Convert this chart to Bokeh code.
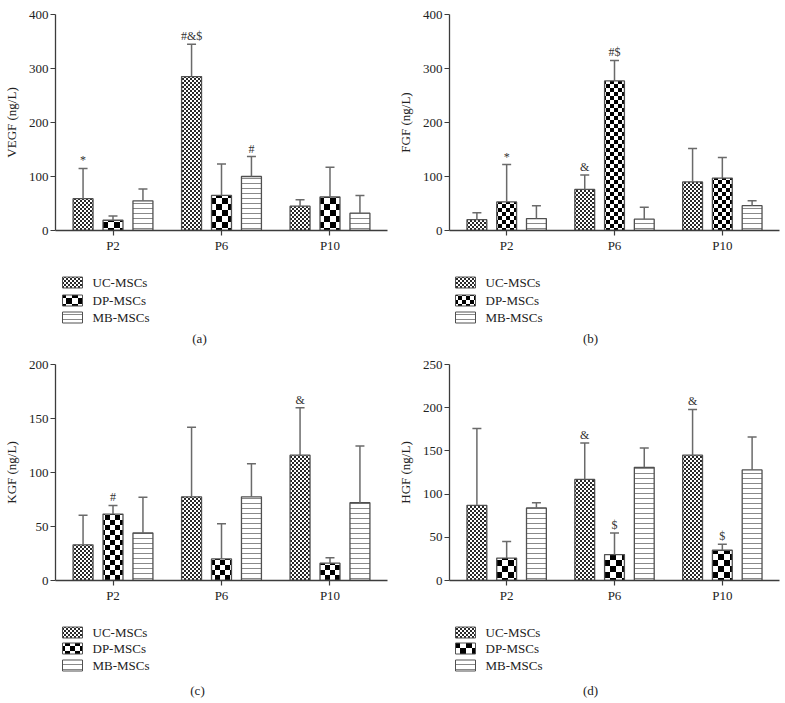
import zlib, struct, base64
from bokeh.plotting import figure
from bokeh.models import (ColumnDataSource, FactorRange, Range1d, SingleIntervalTicker,
                          ImageURLTexture, Grid)
from bokeh.transform import dodge
from bokeh.core.properties import value
from bokeh.layouts import column, row
from bokeh.embed import file_html
from bokeh.resources import INLINE

passages = ["P2", "P6", "P10"]
groups = ["UC-MSCs", "DP-MSCs", "MB-MSCs"]

# (a) VEGF
vegf_uc = [59, 285, 45]
vegf_uc_sd = [56, 60, 12]
vegf_dp = [19, 65, 62]
vegf_dp_sd = [8, 58, 55]
vegf_mb = [55, 100, 32]
vegf_mb_sd = [22, 37, 33]
vegf_uc_mark = ["*", "#&$", ""]
vegf_dp_mark = ["", "", ""]
vegf_mb_mark = ["", "#", ""]

# (b) FGF
fgf_uc = [20, 76, 90]
fgf_uc_sd = [13, 27, 62]
fgf_dp = [53, 277, 97]
fgf_dp_sd = [69, 38, 38]
fgf_mb = [22, 21, 46]
fgf_mb_sd = [24, 22, 9]
fgf_uc_mark = ["", "&", ""]
fgf_dp_mark = ["*", "#$", ""]
fgf_mb_mark = ["", "", ""]

# (c) KGF
kgf_uc = [33, 77.5, 116]
kgf_uc_sd = [27.5, 64.5, 44]
kgf_dp = [61.5, 20, 16]
kgf_dp_sd = [8, 32.5, 5]
kgf_mb = [44, 77.5, 72]
kgf_mb_sd = [33, 30.5, 52.5]
kgf_uc_mark = ["", "", "&"]
kgf_dp_mark = ["#", "", ""]
kgf_mb_mark = ["", "", ""]

# (d) HGF
hgf_uc = [87, 117, 145]
hgf_uc_sd = [89, 42, 53]
hgf_dp = [26, 30, 35]
hgf_dp_sd = [19, 25, 7]
hgf_mb = [84, 131, 128]
hgf_mb_sd = [6, 22.5, 38]
hgf_uc_mark = ["", "&", "&"]
hgf_dp_mark = ["", "$", "$"]
hgf_mb_mark = ["", "", ""]

FONT = "Liberation Serif"


def checker_png(n, fg, bg=255):
    size = 2 * n
    raw = b""
    for yy in range(size):
        line = bytes([fg if ((xx // n + yy // n) % 2 == 0) else bg for xx in range(size)])
        raw += b"\x00" + line

    def chunk(t, d):
        c = struct.pack(">I", len(d)) + t + d
        return c + struct.pack(">I", zlib.crc32(t + d) & 0xffffffff)

    png = (b"\x89PNG\r\n\x1a\n"
           + chunk(b"IHDR", struct.pack(">IIBBBBB", size, size, 8, 0, 0, 0, 0))
           + chunk(b"IDAT", zlib.compress(raw))
           + chunk(b"IEND", b""))
    return "data:image/png;base64," + base64.b64encode(png).decode()


def styles_for(dp_n):
    return [
        dict(hatch_pattern=value("ucfine"),
             hatch_extra={"ucfine": ImageURLTexture(url=checker_png(2, 40))}),
        dict(hatch_pattern=value("dpbig"),
             hatch_extra={"dpbig": ImageURLTexture(url=checker_png(dp_n, 0))}),
        dict(hatch_pattern="horizontal_line", hatch_color="#8a8a8a", hatch_scale=5,
             hatch_weight=1),
    ]


def make_panel(ylabel, ymax, step, series, caption, fw, mbl, mbr, mbt, dp_n,
               leg_h, leg_x, leg_rows, cap_x, cap_y):
    p = figure(x_range=FactorRange(*passages, range_padding=0.02),
               y_range=Range1d(0, ymax), frame_width=fw, frame_height=216,
               min_border_left=mbl, min_border_right=mbr, min_border_top=mbt,
               min_border_bottom=26, output_backend="svg", toolbar_location=None,
               tools="", title=None)
    p.outline_line_alpha = 0
    p.xgrid.visible = False
    p.ygrid.visible = False

    offsets = [-0.276, 0.0, 0.276]
    styles = styles_for(dp_n)
    for (vals, sds, marks), off, st in zip(series, offsets, styles):
        src = ColumnDataSource(dict(x=passages, top=vals,
                                    upper=[v + s for v, s in zip(vals, sds)],
                                    mark=marks))
        xs = dodge("x", off, range=p.x_range)
        p.vbar(x=xs, top="top", width=0.184, source=src, fill_color="white",
               line_color="#505050", line_width=1.3, **st)
        p.segment(x0=xs, y0="top", x1=xs, y1="upper", source=src,
                  line_color="#6a6a6a", line_width=1.5)
        p.scatter(x=xs, y="upper", marker="dash", size=9, source=src,
                  line_color="#6a6a6a", line_width=1.5)
        p.text(x=xs, y="upper", text="mark", source=src, text_align="center",
               text_baseline="bottom", y_offset=-1, text_font=value(FONT),
               text_font_size="12px", text_color="#333333")

    p.yaxis.ticker = SingleIntervalTicker(interval=step, num_minor_ticks=0)
    for ax in (p.xaxis[0], p.yaxis[0]):
        ax.axis_line_color = "#3c3c3c"
        ax.axis_line_width = 1.3
        ax.major_tick_line_color = "#3c3c3c"
        ax.major_tick_line_width = 1.2
        ax.major_tick_in = 0
        ax.minor_tick_line_color = None
        ax.major_label_text_font = FONT
        ax.major_label_text_font_size = "13px"
        ax.major_label_text_color = "#222222"
    p.xaxis.major_tick_out = 5
    p.xaxis.major_label_standoff = 2
    p.yaxis.major_tick_out = 5
    p.yaxis.major_label_standoff = 2
    p.yaxis.axis_label = ylabel
    p.yaxis.axis_label_text_font = FONT
    p.yaxis.axis_label_text_font_size = "13px"
    p.yaxis.axis_label_text_font_style = "normal"
    p.yaxis.axis_label_text_color = "#222222"
    p.yaxis.axis_label_standoff = 7

    # legend and caption strip below the chart
    lg = figure(x_range=Range1d(0, fw), y_range=Range1d(0, leg_h), frame_width=fw,
                frame_height=leg_h, min_border_left=mbl, min_border_right=mbr,
                min_border_top=0, min_border_bottom=0, x_axis_location=None,
                y_axis_location=None, output_backend="svg", toolbar_location=None,
                tools="", title=None)
    lg.outline_line_alpha = 0
    for r in lg.center:
        if isinstance(r, Grid):
            r.visible = False
    for g, yc, st in zip(groups, leg_rows, styles_for(dp_n)):
        lg.quad(left=[leg_x], right=[leg_x + 20], bottom=[yc - 5.5], top=[yc + 5.5],
                fill_color="white", line_color="#505050", line_width=1, **st)
    lg.text(x=[leg_x + 30] * 3, y=leg_rows, text=groups, text_align="left",
            text_baseline="middle", text_font=value(FONT), text_font_size="13px",
            text_color="#222222")
    lg.text(x=[cap_x], y=[cap_y], text=[caption], text_align="center",
            text_baseline="middle", text_font=value(FONT), text_font_size="13px",
            text_color="#222222")
    return column(p, lg)


pa = make_panel("VEGF (ng/L)", 400, 100,
                [(vegf_uc, vegf_uc_sd, vegf_uc_mark), (vegf_dp, vegf_dp_sd, vegf_dp_mark),
                 (vegf_mb, vegf_mb_sd, vegf_mb_mark)],
                "(a)", 332, 53, 7, 14, 6, 94, 7, [68, 50, 33], 144, 12)
pb = make_panel("FGF (ng/L)", 400, 100,
                [(fgf_uc, fgf_uc_sd, fgf_uc_mark), (fgf_dp, fgf_dp_sd, fgf_dp_mark),
                 (fgf_mb, fgf_mb_sd, fgf_mb_mark)],
                "(b)", 330, 55, 8, 14, 4, 94, 6, [68, 50, 33], 141, 12)
pc = make_panel("KGF (ng/L)", 200, 50,
                [(kgf_uc, kgf_uc_sd, kgf_uc_mark), (kgf_dp, kgf_dp_sd, kgf_dp_mark),
                 (kgf_mb, kgf_mb_sd, kgf_mb_mark)],
                "(c)", 332, 53, 7, 14, 5, 97, 7, [71, 55, 38], 142, 13)
pd = make_panel("HGF (ng/L)", 250, 50,
                [(hgf_uc, hgf_uc_sd, hgf_uc_mark), (hgf_dp, hgf_dp_sd, hgf_dp_mark),
                 (hgf_mb, hgf_mb_sd, hgf_mb_mark)],
                "(d)", 330, 55, 8, 14, 6, 97, 6, [71, 55, 38], 141, 13)

layout = column(row(pa, pb), row(pc, pd))
open("out.html", "w").write(file_html(layout, INLINE))
